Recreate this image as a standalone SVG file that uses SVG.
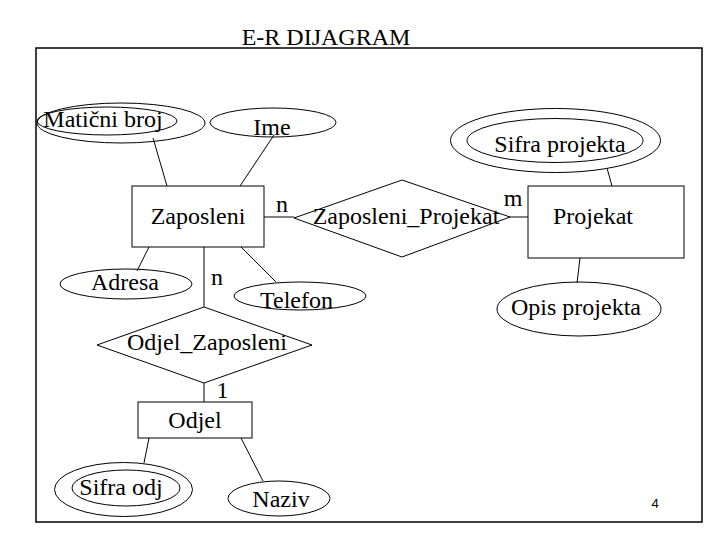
<svg xmlns="http://www.w3.org/2000/svg" width="720" height="540" viewBox="0 0 720 540">
<style>
.s{fill:none;stroke:#000;stroke-width:1}
.f{fill:#fff;stroke:#000;stroke-width:1}
text{font-family:"Liberation Serif","Times New Roman",serif;font-size:24px;fill:#000;text-anchor:middle}
.pg{font-family:"Liberation Sans",Arial,sans-serif;font-size:13px}
</style>
<rect width="720" height="540" fill="#fff"/>
<text x="326" y="45">E-R DIJAGRAM</text>
<rect x="36" y="48" width="666" height="474" fill="none" stroke="#000" stroke-width="1.5"/>
<g id="connectors" class="s">
<line x1="153" y1="138" x2="167" y2="186"/>
<line x1="274" y1="135" x2="240" y2="186"/>
<line x1="264" y1="217" x2="294" y2="217"/>
<line x1="510" y1="217" x2="528" y2="217"/>
<line x1="607" y1="168" x2="612" y2="186"/>
<line x1="580" y1="258" x2="577" y2="283"/>
<line x1="149" y1="247" x2="137" y2="271"/>
<line x1="204" y1="247" x2="204" y2="307"/>
<line x1="241" y1="247" x2="276" y2="282"/>
<line x1="204" y1="383" x2="204" y2="402"/>
<line x1="149" y1="438" x2="144" y2="463"/>
<line x1="241" y1="438" x2="263" y2="481"/>
</g>
<g id="maticni-broj">
<ellipse class="s" cx="121" cy="123" rx="84" ry="20"/>
<ellipse class="s" cx="107" cy="121" rx="70" ry="14"/>
<text x="103" y="127">Matični broj</text>
</g>
<g id="ime">
<ellipse class="s" cx="273" cy="122.5" rx="63" ry="14.5"/>
<text x="272" y="135">Ime</text>
</g>
<g id="sifra-projekta">
<ellipse class="s" cx="555.5" cy="140.5" rx="105" ry="32"/>
<ellipse class="s" cx="555" cy="140.5" rx="88" ry="22"/>
<text x="560" y="152">Sifra projekta</text>
</g>
<g id="zaposleni">
<rect class="s" x="132" y="186" width="132" height="61"/>
<text x="198" y="224">Zaposleni</text>
</g>
<g id="zaposleni-projekat">
<polygon class="s" points="402,180 510,217 402,257 294,218"/>
<text x="406" y="224">Zaposleni_Projekat</text>
</g>
<g id="projekat">
<rect class="s" x="528" y="186" width="156" height="72"/>
<text x="593" y="224">Projekat</text>
</g>
<g id="opis-projekta">
<ellipse class="s" cx="579" cy="309" rx="82" ry="27"/>
<text x="576" y="315">Opis projekta</text>
</g>
<g id="adresa">
<ellipse class="s" cx="126" cy="284" rx="66" ry="15"/>
<text x="125" y="290">Adresa</text>
</g>
<g id="telefon">
<ellipse class="s" cx="300" cy="296" rx="66" ry="14"/>
<text x="296.5" y="308">Telefon</text>
</g>
<g id="odjel-zaposleni">
<polygon class="s" points="204,307 312,345 204,383 97,345"/>
<text x="207" y="350">Odjel_Zaposleni</text>
</g>
<g id="odjel">
<rect class="s" x="138" y="402" width="114" height="36"/>
<text x="195" y="428">Odjel</text>
</g>
<g id="sifra-odj">
<ellipse class="s" cx="123.5" cy="489.5" rx="69" ry="27"/>
<ellipse class="s" cx="126" cy="488" rx="54" ry="18"/>
<text x="121" y="495">Sifra odj</text>
</g>
<g id="naziv">
<ellipse class="s" cx="279" cy="498.5" rx="51" ry="17.5"/>
<text x="281" y="507">Naziv</text>
</g>
<g id="cardinalities">
<text x="282" y="212">n</text>
<text x="513" y="206">m</text>
<text x="217" y="285">n</text>
<text x="222.5" y="398">1</text>
</g>
<text class="pg" x="655" y="508">4</text>
</svg>
